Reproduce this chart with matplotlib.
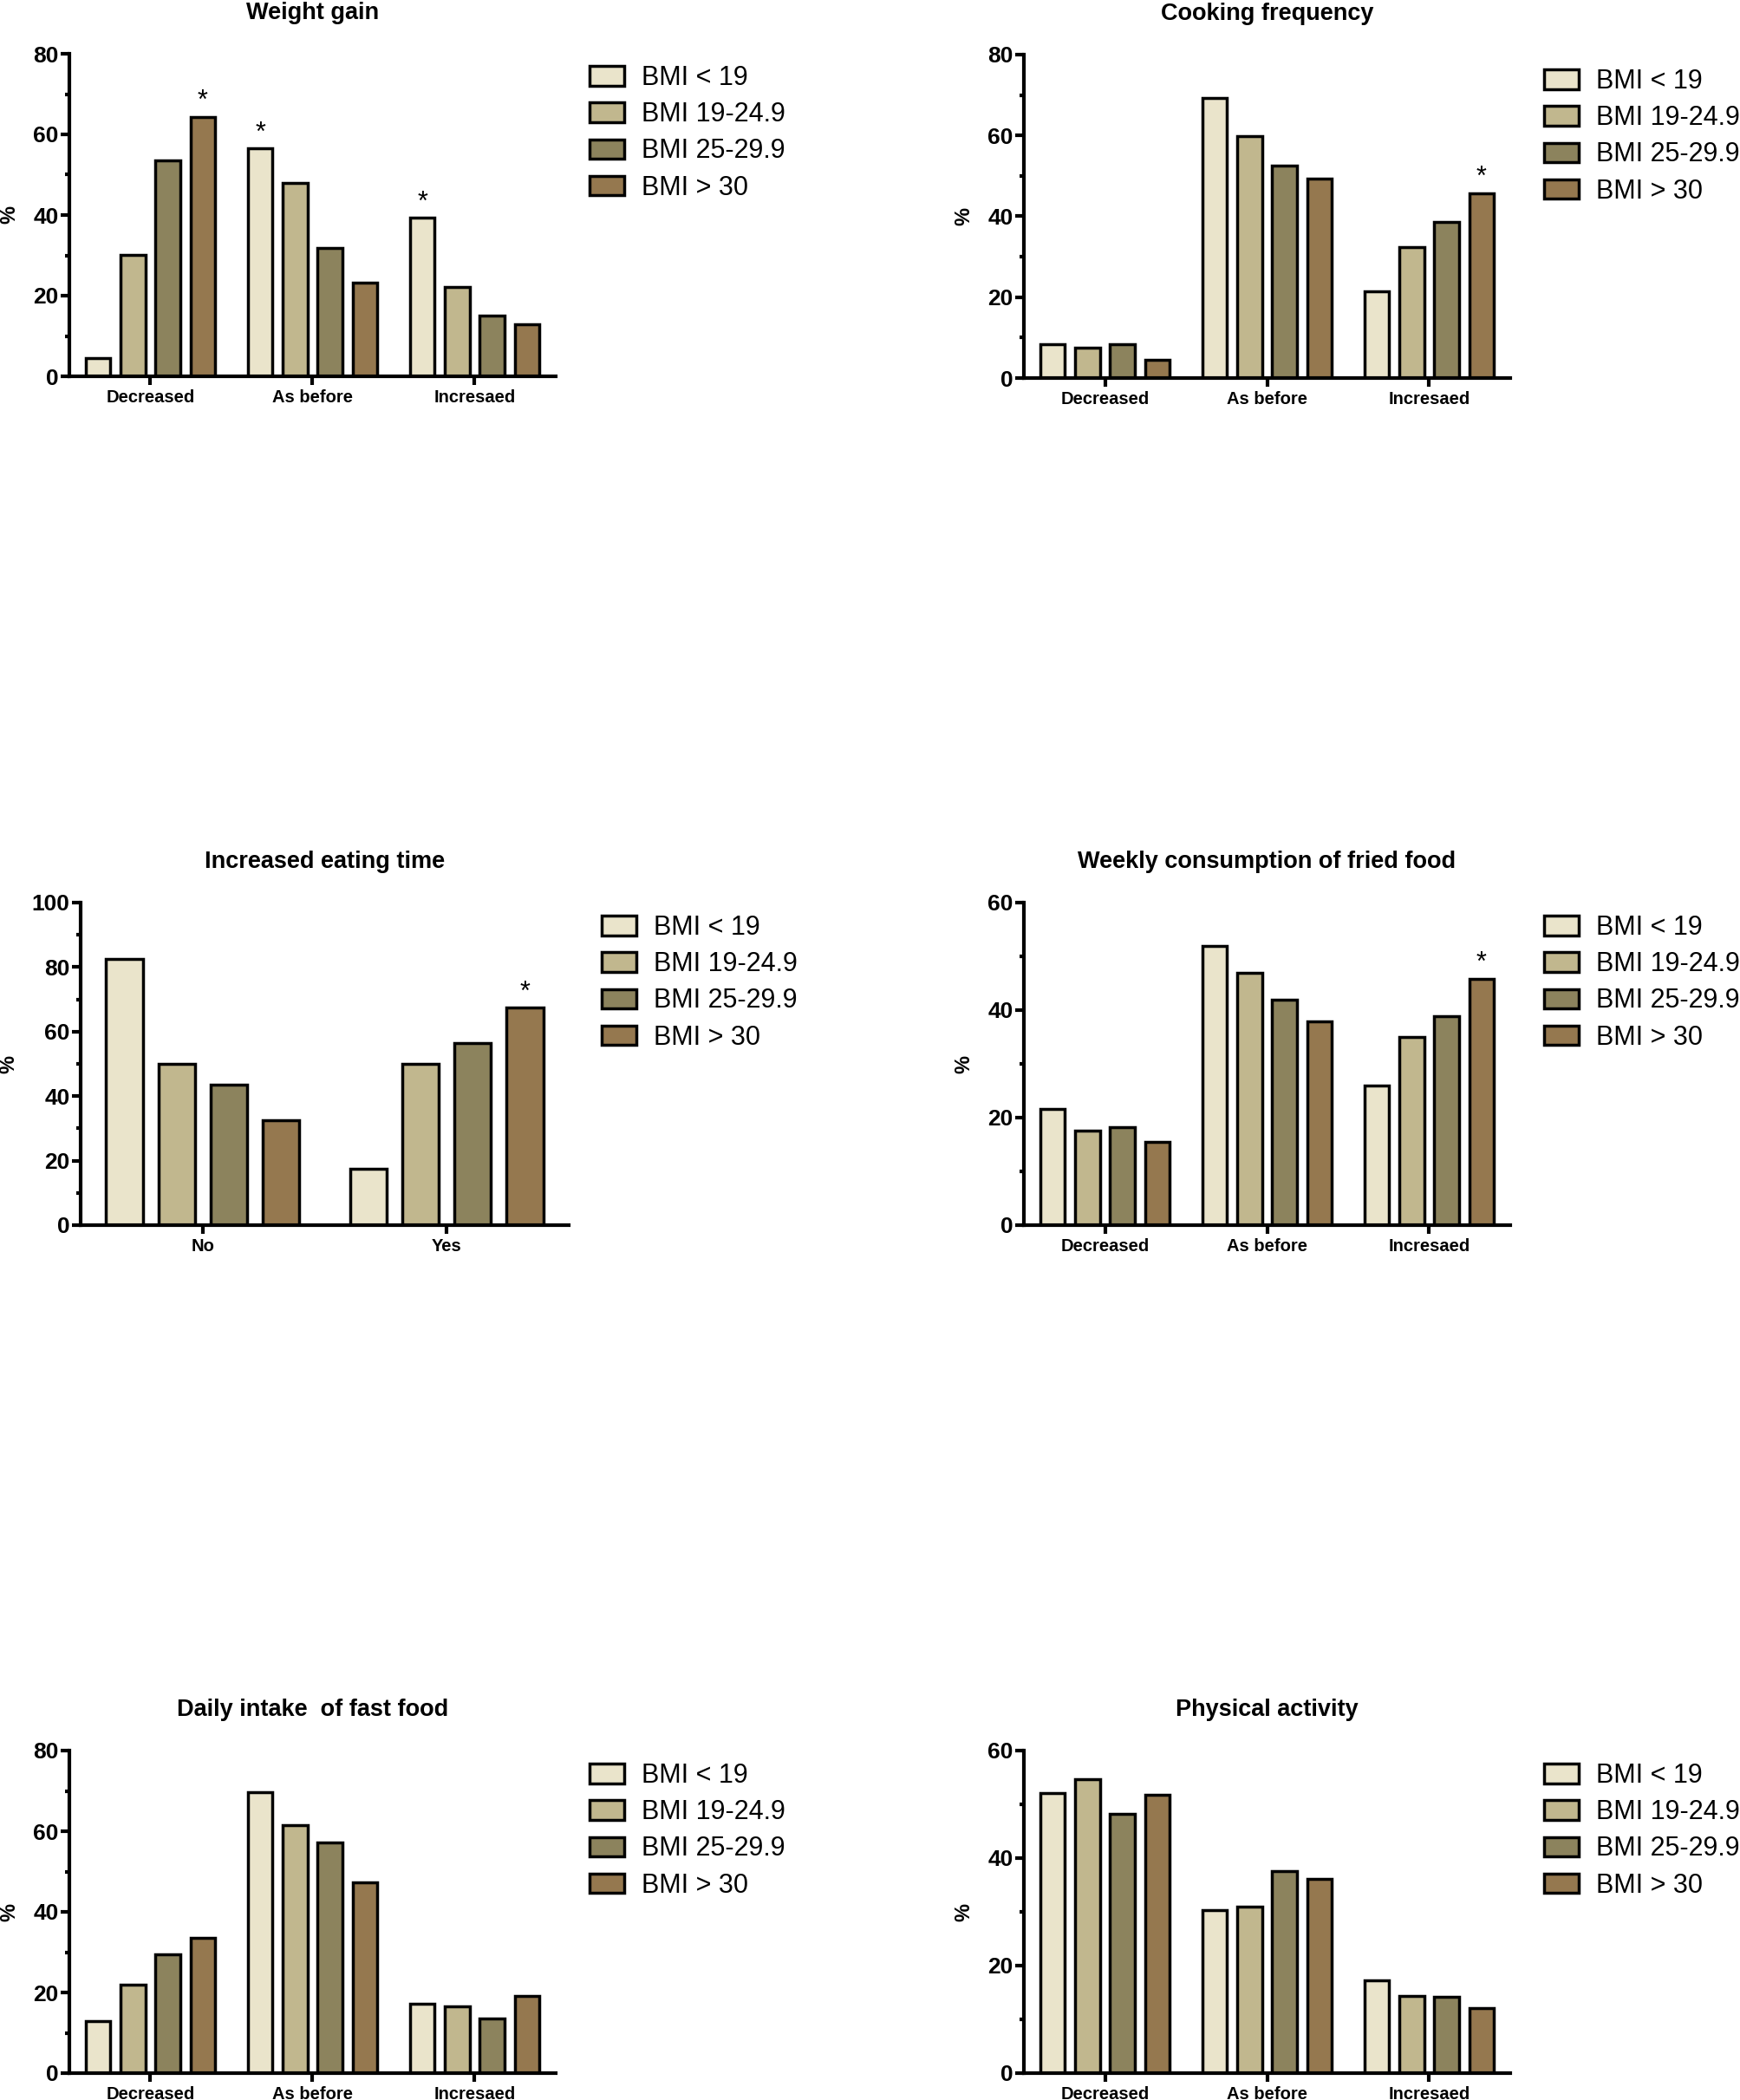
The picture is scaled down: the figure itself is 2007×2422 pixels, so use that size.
import numpy as np
import matplotlib
matplotlib.use("Agg")
import matplotlib.pyplot as plt
from matplotlib.ticker import MultipleLocator

plt.rcParams['font.family'] = ['Liberation Sans', 'DejaVu Sans']

bmi_labels = ["BMI < 19", "BMI 19-24.9", "BMI 25-29.9", "BMI > 30"]
bmi_colors = ["#EAE4CB", "#C1B78E", "#8C835D", "#95784F"]

change_cats = ["Decreased", "As before", "Incresaed"]
yes_no_cats = ["No", "Yes"]

# rows = BMI classes, columns = categories
weight_gain = [[4.5, 56.5, 39.3],
               [30.1, 48.0, 22.1],
               [53.6, 31.9, 15.1],
               [64.4, 23.3, 12.8]]
cooking = [[8.4, 69.3, 21.5],
           [7.4, 59.8, 32.3],
           [8.4, 52.5, 38.7],
           [4.5, 49.4, 45.7]]
eating_time = [[82.6, 17.4],
               [50.0, 50.0],
               [43.5, 56.5],
               [32.6, 67.4]]
fried_food = [[21.6, 51.9, 25.9],
              [17.6, 47.0, 35.0],
              [18.2, 42.0, 38.8],
              [15.5, 37.9, 45.8]]
fast_food = [[12.9, 69.7, 17.2],
             [22.0, 61.5, 16.6],
             [29.4, 57.2, 13.6],
             [33.5, 47.3, 19.2]]
activity = [[52.1, 30.3, 17.3],
            [54.7, 31.0, 14.4],
            [48.3, 37.6, 14.2],
            [51.8, 36.1, 12.1]]

# (category index, BMI index) of bars marked with *
weight_stars = [(0, 3), (1, 0), (2, 0)]
cooking_stars = [(2, 3)]
eating_stars = [(1, 3)]
fried_stars = [(2, 3)]

W, H = 2008, 2422
fig = plt.figure(figsize=(W / 100, H / 100), dpi=100)


def px_rect(x0, x1, ytop, ybot):
    return [x0 / W, 1 - ybot / H, (x1 - x0) / W, (ybot - ytop) / H]


panels = [
    ("Weight gain", change_cats, weight_gain, 80, weight_stars,
     px_rect(80, 641, 62, 434), (680, 75)),
    ("Cooking frequency", change_cats, cooking, 80, cooking_stars,
     px_rect(1181, 1742, 63, 436), (1781, 79)),
    ("Increased eating time", yes_no_cats, eating_time, 100, eating_stars,
     px_rect(93, 656, 1041, 1413), (694, 1055)),
    ("Weekly consumption of fried food", change_cats, fried_food, 60, fried_stars,
     px_rect(1181, 1742, 1041, 1413), (1781, 1055)),
    ("Daily intake  of fast food", change_cats, fast_food, 80, [],
     px_rect(80, 641, 2019, 2391), (680, 2033)),
    ("Physical activity", change_cats, activity, 60, [],
     px_rect(1181, 1742, 2019, 2391), (1781, 2033)),
]

step = 0.214
width = 0.15

for title, cats, data, ymax, stars, rect, leg in panels:
    ax = fig.add_axes(rect)
    x = np.arange(len(cats))
    for i in range(4):
        ax.bar(x + (i - 1.5) * step, data[i], width, color=bmi_colors[i],
               edgecolor="black", linewidth=2.5, label=bmi_labels[i])
    for c, b in stars:
        ax.annotate("*", (c + (b - 1.5) * step, data[b][c]), xytext=(0, 2),
                    textcoords="offset points", ha="center", va="bottom",
                    fontsize=22)
    ax.set_xlim(-0.5, len(cats) - 0.5)
    ax.set_ylim(0, ymax)
    ax.set_xticks(x)
    ax.set_xticklabels(cats)
    ax.yaxis.set_major_locator(MultipleLocator(20))
    ax.yaxis.set_minor_locator(MultipleLocator(10))
    for s in ["top", "right"]:
        ax.spines[s].set_visible(False)
    for s in ["left", "bottom"]:
        ax.spines[s].set_linewidth(3)
    ax.tick_params(axis="y", which="major", length=7, width=3, labelsize=19, pad=2)
    ax.tick_params(axis="y", which="minor", length=3.5, width=3)
    ax.tick_params(axis="x", length=7, width=3, labelsize=14.5, pad=4)
    for lab in ax.get_xticklabels() + ax.get_yticklabels():
        lab.set_fontweight("bold")
    ax.set_ylabel("%", fontsize=17, fontweight="bold", labelpad=11)
    ax.set_title(title, fontsize=19.5, fontweight="bold", pad=29)
    ax.legend(loc="upper left", bbox_to_anchor=(leg[0] / W, 1 - leg[1] / H),
              bbox_transform=fig.transFigure, frameon=False, fontsize=22,
              handlelength=1.3, handleheight=0.75, handletextpad=0.65,
              labelspacing=0.4, borderaxespad=0, borderpad=0)

fig.savefig("out.png", dpi=100)
